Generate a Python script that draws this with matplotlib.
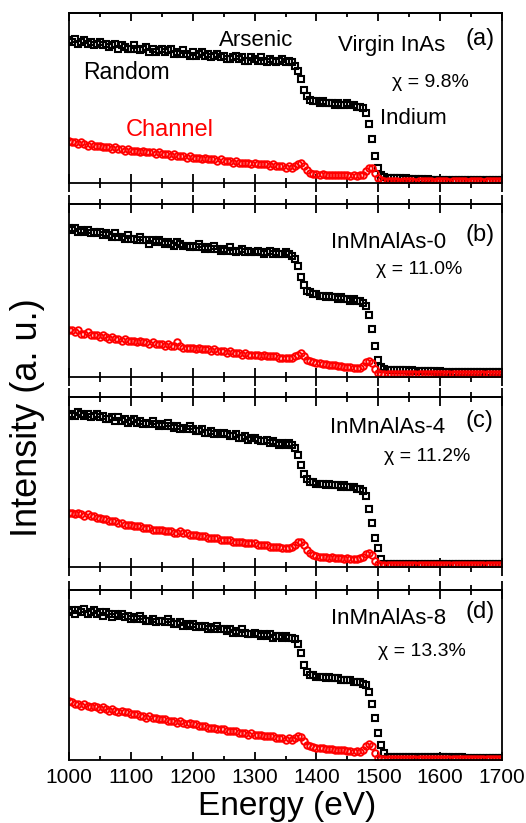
import numpy as np
import matplotlib
matplotlib.use("Agg")
import matplotlib.pyplot as plt

plt.rcParams['font.family'] = ['Liberation Sans', 'DejaVu Sans']

# RBS spectra, 5 eV channels from 1000 eV, intensity in % of panel height
e_start, e_step = 1000, 5

random_a = [84, 83, 85, 82, 83, 84, 82, 83, 81, 82,
            83, 81, 82, 80, 81, 82, 79, 81, 80, 79,
            79, 81, 79, 78, 79, 80, 77, 79, 77, 78,
            79, 77, 78, 79, 76, 77, 76, 78, 76, 75,
            77, 75, 76, 77, 75, 76, 74, 75, 76, 74,
            75, 73, 73, 74, 75, 73, 74, 72, 72, 74,
            73, 72, 74, 72, 71, 73, 72, 71, 72, 73,
            71, 72, 71, 69, 66, 61, 55, 51, 49, 48,
            48, 47, 48, 47, 47, 47, 46, 47, 46, 46,
            47, 46, 46, 45, 45, 44, 41, 35, 26, 16,
            9, 5, 3.5, 3, 3, 3, 3, 3, 2.5, 3,
            2.5, 2.5, 2.5, 2.5, 2.5, 2, 2.5, 2, 2, 2,
            2, 2, 2, 2, 2, 2, 2, 1.5, 2, 1.5,
            1.5, 1.5, 1.5, 1.5, 1.5, 1.5, 1.5, 1.5, 1.5, 1.5,
            1.5]
channel_a = [25, 24, 24, 23, 24, 23, 22, 23, 22, 22,
             22, 21, 21, 21, 20, 21, 20, 20, 19, 20,
             19, 19, 19, 18, 19, 18, 18, 18, 17, 18,
             17, 17, 17, 16, 17, 16, 16, 16, 15, 16,
             15, 15, 15, 14, 15, 14, 14, 14, 13, 14,
             13, 13, 13, 12, 13, 12, 12, 12, 12, 11,
             12, 11, 11, 11, 11, 10, 11, 10, 10, 10,
             9, 10, 9, 10, 11, 11.5, 10, 7.5, 6, 5.5,
             5.5, 5, 5.5, 5, 5, 5, 4.5, 5, 4.5, 4.5,
             4.5, 4, 4.5, 4, 4.5, 5, 7, 9, 9, 6,
             3, 1.5, 1, 1, 1, 1, 1, 0.5, 1, 1,
             1, 1, 0.5, 1, 1, 1, 1, 1, 0.5, 1,
             1, 1, 1, 0.5, 1, 1, 1, 1, 1, 0.5,
             1, 1, 1, 1, 0.5, 1, 1, 1, 1, 1,
             1]

random_b = [86, 85, 86, 84, 85, 84, 85, 83, 84, 83,
            84, 82, 83, 82, 81, 83, 81, 81, 80, 82,
            80, 80, 79, 81, 79, 79, 77, 79, 78, 79,
            78, 77, 78, 77, 76, 78, 77, 76, 76, 75,
            76, 75, 77, 75, 74, 75, 74, 76, 74, 73,
            74, 73, 75, 73, 72, 73, 74, 72, 73, 72,
            72, 73, 72, 71, 72, 73, 71, 72, 71, 71,
            72, 71, 70, 68, 64, 58, 53, 50, 49, 48,
            48, 47, 47, 46, 47, 46, 46, 45, 46, 45,
            45, 44, 45, 44, 44, 43, 41, 36, 28, 18,
            10, 6, 4.5, 4, 4, 4, 4, 4, 4, 4,
            3.5, 4, 3.5, 3.5, 3.5, 3.5, 3.5, 3.5, 3.5, 3,
            3.5, 3, 3, 3, 3, 3, 3, 3, 3, 3,
            3, 3, 3, 3, 3, 3, 3, 3, 3, 3,
            3]
channel_b = [27, 27, 26, 27, 25, 25, 26, 24, 24, 24,
             23, 24, 23, 22, 23, 22, 22, 21, 22, 21,
             21, 21, 20, 21, 20, 20, 19, 20, 19, 19,
             19, 18, 19, 18, 18, 20, 18, 17, 17, 17,
             17, 16, 17, 16, 16, 16, 15, 16, 15, 15,
             15, 14, 15, 14, 14, 14, 13, 14, 13, 13,
             13, 13, 12, 13, 12, 12, 12, 12, 11, 11,
             11, 11, 11, 12, 13, 14, 12, 10, 9, 8.5,
             8, 8, 7.5, 7.5, 7, 7, 7, 6.5, 6.5, 6,
             6, 6, 5.5, 5.5, 5.5, 6.5, 8.5, 9.5, 8, 4.5,
             2.5, 2, 2, 2, 2, 2, 2, 2, 2, 2,
             2, 2, 2, 2, 2, 2, 2, 2, 2, 2,
             2, 2, 2, 2, 2, 2, 1.5, 2, 1.5, 2,
             1.5, 1.5, 1.5, 1.5, 1.5, 1.5, 1.5, 1.5, 1.5, 1.5,
             1.5]

random_c = [89, 90, 89, 91, 90, 89, 90, 88, 89, 90,
            88, 89, 87, 87, 88, 86, 88, 86, 87, 85,
            86, 87, 85, 86, 84, 85, 84, 86, 84, 83,
            84, 83, 85, 83, 82, 83, 81, 82, 81, 83,
            81, 80, 80, 81, 79, 79, 80, 78, 79, 78,
            79, 78, 77, 77, 78, 76, 76, 77, 75, 76,
            76, 75, 74, 74, 75, 73, 74, 73, 72, 73,
            72, 73, 72, 70, 66, 60, 55, 52, 50, 50,
            49, 49, 49, 48, 49, 48, 48, 48, 47, 48,
            47, 47, 47, 46, 46, 45, 42, 34, 26, 17,
            11, 5, 2, 1.5, 1.5, 1.5, 1.5, 1.5, 1.5, 1.5,
            1.5, 1.5, 1.5, 1.5, 1.5, 1.5, 1.5, 1.5, 1.5, 1.5,
            1.5, 1.5, 1.5, 1.5, 1.5, 1.5, 1.5, 1.5, 1.5, 1.5,
            1.5, 1.5, 1.5, 1.5, 1.5, 1.5, 1.5, 1.5, 1.5, 1.5,
            1.5]
channel_c = [32, 32, 31, 32, 31, 30, 31, 30, 30, 29,
             29, 28, 28, 27, 27, 27, 26, 26, 25, 25,
             25, 24, 24, 24, 23, 23, 23, 22, 22, 22,
             22, 21, 21, 21, 20, 20, 21, 20, 20, 19,
             19, 19, 18, 18, 18, 17, 17, 17, 17, 16,
             16, 16, 16, 15, 15, 15, 15, 14, 14, 14,
             14, 13, 13, 13, 13, 12, 12, 12, 12, 11,
             11, 11, 12, 13, 14.5, 15, 13, 10, 8, 7,
             6.5, 6, 6, 6, 5.5, 6, 5.5, 5.5, 5.5, 5,
             5.5, 5, 5, 5, 5.5, 6, 7.5, 8.5, 7, 3.5,
             1.5, 1, 1, 1, 1, 1, 1, 1, 1, 1,
             1, 1, 1, 1, 1, 1, 1, 1, 1, 1,
             1, 1, 1, 1, 1, 1, 1, 1, 1, 1,
             1, 1, 1, 1, 1, 1, 1, 1, 1, 1,
             1]

random_d = [87, 88, 86, 88, 87, 89, 86, 87, 88, 86,
            87, 85, 87, 86, 84, 86, 85, 86, 84, 85,
            83, 84, 83, 85, 83, 82, 82, 83, 81, 82,
            82, 81, 83, 81, 80, 80, 81, 79, 80, 79,
            80, 78, 79, 78, 79, 77, 78, 77, 79, 77,
            77, 76, 77, 75, 76, 75, 77, 75, 74, 74,
            75, 74, 73, 74, 73, 74, 72, 73, 73, 72,
            73, 72, 72, 71, 68, 63, 56, 52, 50, 50,
            49, 49, 49, 48, 49, 48, 48, 48, 47, 47,
            47, 47, 46, 46, 46, 45, 44, 40, 33, 25,
            16, 9, 4, 2, 1.5, 1.5, 1.5, 1.5, 1.5, 1.5,
            1.5, 1.5, 1.5, 1.5, 1.5, 1.5, 1.5, 1.5, 1.5, 1.5,
            1.5, 1.5, 1.5, 1.5, 1.5, 1, 1.5, 1.5, 1, 1,
            1, 1, 1, 1, 1, 1, 1, 1, 1, 1,
            1]
channel_d = [35, 34, 33, 33, 32, 33, 32, 31, 32, 31,
             30, 31, 30, 29, 30, 29, 28, 29, 28, 28,
             27, 27, 27, 26, 26, 25, 26, 25, 25, 24,
             24, 24, 23, 23, 23, 22, 23, 22, 21, 22,
             21, 21, 20, 20, 20, 19, 19, 19, 18, 18,
             18, 17, 17, 17, 17, 16, 16, 16, 15, 16,
             15, 15, 15, 14, 14, 14, 14, 13, 13, 13,
             12, 13, 12, 13, 14, 13.5, 11, 9, 8, 7.5,
             7, 7, 7, 6.5, 6.5, 6.5, 6, 6, 6, 6,
             5.5, 5.5, 5, 5.5, 5, 6, 8, 9.5, 8, 4,
             1, 0.5, 0.5, 0.5, 0.5, 0.5, 0.5, 0.5, 0.5, 0.5,
             0.5, 0.5, 0.5, 0.5, 0.5, 0.5, 0.5, 0.5, 0.5, 0.5,
             0.5, 0.5, 0.5, 0.5, 0.5, 0.5, 0.5, 0.5, 0.5, 0.5,
             0.5, 0.5, 0.5, 0.5, 0.5, 0.5, 0.5, 0.5, 0.5, 0.5,
             0.5]

random_spectra = [random_a, random_b, random_c, random_d]
channel_spectra = [channel_a, channel_b, channel_c, channel_d]
panel_tags = ['(a)', '(b)', '(c)', '(d)']
sample_names = ['Virgin InAs', 'InMnAlAs-0', 'InMnAlAs-4', 'InMnAlAs-8']
chi_values = [9.8, 11.0, 11.2, 13.3]
x_major = [1000, 1100, 1200, 1300, 1400, 1500, 1600, 1700]
x_minor = [1050, 1150, 1250, 1350, 1450, 1550, 1650]

for s in random_spectra + channel_spectra:
    assert len(s) == 141, len(s)

fig = plt.figure(figsize=(5.26, 8.23), dpi=100)

# panel boxes (left, bottom, width, height) in figure fraction
left, width = 0.1312, 0.8232
bottoms = [0.7776, 0.5419, 0.3110, 0.0765]
heights = [0.2066, 0.2102, 0.2066, 0.2066]

# text positions per panel (energy, % height)
tag_pos = [(1664, 85), (1664, 82), (1664, 86), (1664, 87)]
name_pos = [(1521, 81), (1516, 78), (1515, 82), (1516, 83)]
chi_pos = [(1585, 59), (1566, 62), (1579, 65), (1570, 64)]

n_panels = len(panel_tags)
for i in range(n_panels):
    ax = fig.add_axes([left, bottoms[i], width, heights[i]])
    energy = e_start + e_step*np.arange(len(random_spectra[i]))
    ax.plot(energy, random_spectra[i], 's', mfc='none', mec='black',
            ms=4.3, mew=1.5)
    ax.plot(energy, channel_spectra[i], 'o', mfc='none', mec='red',
            ms=4.7, mew=1.4)
    ax.set_xlim(1000, 1700)
    ax.set_ylim(0, 100)
    ax.set_yticks([])
    for sp in ax.spines.values():
        sp.set_linewidth(1.3)

    # bottom ticks on the main axis, top ticks on a secondary one
    bot_dir = 'in' if i == n_panels-1 else 'inout'
    top_dir = 'in' if i == 0 else 'inout'
    big = 6 if bot_dir == 'in' else 13
    ax.set_xticks(x_major)
    ax.set_xticks(x_minor, minor=True)
    ax.tick_params(axis='x', which='major', direction=bot_dir, length=big,
                   width=1.3, labelsize=15, pad=6)
    ax.tick_params(axis='x', which='minor', direction=bot_dir, length=big/2,
                   width=1.3)
    if i < n_panels-1:
        ax.tick_params(axis='x', labelbottom=False)

    top = ax.secondary_xaxis('top')
    big = 6 if top_dir == 'in' else 13
    top.set_xticks(x_major)
    top.set_xticks(x_minor, minor=True)
    top.tick_params(axis='x', which='major', direction=top_dir, length=big,
                    width=1.3, labeltop=False)
    top.tick_params(axis='x', which='minor', direction=top_dir, length=big/2,
                    width=1.3)
    top.spines['top'].set_linewidth(1.3)

    ax.text(*tag_pos[i], panel_tags[i], ha='center', va='center', fontsize=17)
    ax.text(*name_pos[i], sample_names[i], ha='center', va='center',
            fontsize=16)
    ax.text(*chi_pos[i], 'χ = %.1f%%' % chi_values[i], ha='center',
            va='center', fontsize=14)

    if i == 0:
        ax.text(1093, 65, 'Random', ha='center', va='center', fontsize=16.5)
        ax.text(1302, 84, 'Arsenic', ha='center', va='center', fontsize=16)
        ax.text(1556, 38, 'Indium', ha='center', va='center', fontsize=16)
        ax.text(1163, 31, 'Channel', ha='center', va='center', fontsize=17,
                color='red')

fig.text(28/526, 1 - 418/823, 'Intensity (a. u.)', rotation=90,
         ha='center', va='center', fontsize=26)
fig.text(287/526, 1 - 806/823, 'Energy (eV)', ha='center', va='center',
         fontsize=24)

fig.savefig('out.png', dpi=100)
